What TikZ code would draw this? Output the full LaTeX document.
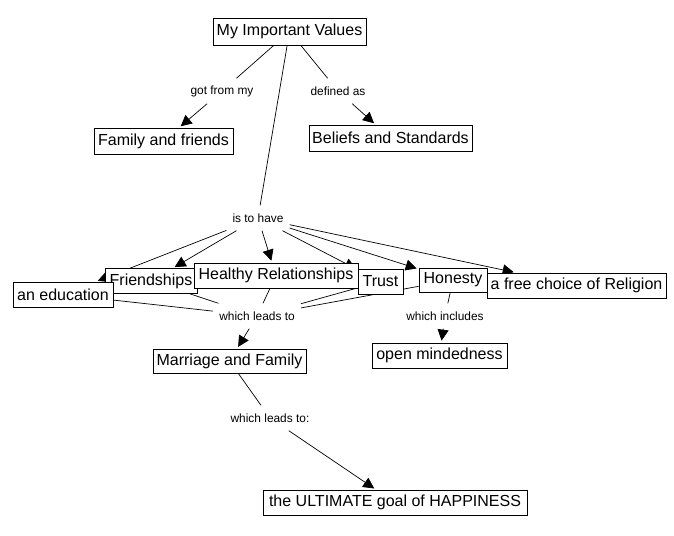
\documentclass[tikz,border=0pt]{standalone}
\usepackage{fontspec}
\setmainfont{Liberation Sans}
\usetikzlibrary{arrows.meta,backgrounds}
\begin{document}
\begin{tikzpicture}[x=1pt,y=-1pt,
  concept/.style={draw=black, line width=0.8pt, fill=white,
    font=\fontsize{16}{18}\selectfont, inner xsep=3pt, inner ysep=0pt,
    minimum height=25pt, anchor=center},
  linkword/.style={font=\fontsize{11.9}{14}\selectfont, inner xsep=6pt,
    inner ysep=0pt, minimum height=25pt},
  conn/.style={line width=0.7pt},
  arr/.style={line width=0.7pt, -{Triangle[length=11pt,width=11pt]}, shorten >=2pt}
]
\useasboundingbox (0,0) rectangle (674,535);

% concepts
\node[concept, minimum width=153pt, minimum height=27pt] (miv) at (289.5,31.5) {My Important Values};
\node[concept, minimum width=139pt, minimum height=26pt] (fam) at (163.5,141) {Family and friends};
\node[concept, minimum width=163pt, minimum height=26pt] (bel) at (390.5,138) {Beliefs and Standards};
\node[concept, minimum width=92pt] (fri) at (151,281) {Friendships};
\node[concept, minimum width=100pt] (edu) at (63,294.5) {an education};
\node[concept, minimum width=164pt] (hr) at (276,275.5) {Healthy Relationships};
\node[concept, minimum width=45pt] (tru) at (380.5,281.5) {Trust};
\node[concept, minimum width=68pt, minimum height=24pt] (hon) at (453,280) {Honesty};
\node[concept, minimum width=179pt] (rel) at (576.5,285.5) {a free choice of Religion};
\node[concept, minimum width=153pt, minimum height=24pt] (mar) at (229.5,361) {Marriage and Family};
\node[concept, minimum width=135pt] (opn) at (439.5,355.5) {open mindedness};
\node[concept, minimum width=264pt] (hap) at (395,502.5) {the ULTIMATE goal of HAPPINESS};

% linking words
\node[linkword] (lgot) at (222,91) {got from my};
\node[linkword] (ldef) at (338,91) {defined as};
\node[linkword] (lhave) at (258,218) {is to have};
\node[linkword] (llead) at (257,316) {which leads to};
\node[linkword] (lincl) at (445,316) {which includes};
\node[linkword] (llead2) at (270,418) {which leads to:};

\begin{pgfonlayer}{background}
\draw[conn] (miv) -- (lgot);
\draw[arr] (lgot) -- (fam);
\draw[conn] (miv) -- (ldef);
\draw[arr] (ldef) -- (bel);
\draw[conn] (miv) -- (lhave);
\draw[arr] (lhave) -- (edu);
\draw[arr] (lhave) -- (fri);
\draw[arr] (lhave) -- (hr);
\draw[arr] (lhave) -- (tru);
\draw[arr] (lhave) -- (hon);
\draw[arr] (lhave) -- (rel);
\draw[conn] (edu) -- (llead);
\draw[conn] (fri) -- (llead);
\draw[conn] (hr) -- (llead);
\draw[conn] (tru) -- (llead);
\draw[conn] (hon) -- (llead);
\draw[arr] (llead) -- (mar);
\draw[conn] (hon) -- (lincl);
\draw[arr] (lincl) -- (opn);
\draw[conn] (mar) -- (llead2);
\draw[arr] (llead2) -- (hap);
\end{pgfonlayer}
\end{tikzpicture}
\end{document}
